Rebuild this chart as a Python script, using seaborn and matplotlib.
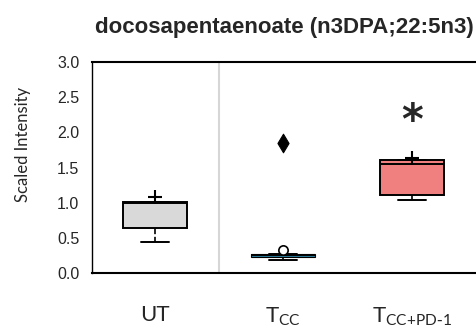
import matplotlib
matplotlib.use("Agg")
import matplotlib.pyplot as plt
import seaborn as sns
import pandas as pd
import numpy as np

sns.set_style("white")
plt.rcParams['font.family'] = ['Liberation Sans', 'DejaVu Sans']

title = "docosapentaenoate (n3DPA;22:5n3)"
ylabel = "Scaled Intensity"
groups = ["UT", "Tcc", "Tcc+PD-1"]
tick_labels = ["UT", r"T$_{\mathregular{CC}}$", r"T$_{\mathregular{CC{+}PD\text{-}1}}$"]
colors = ["#d9d9d9", "#2a7e9e", "#f08080"]

# per-group box summary values: min, q1, median, q3, max
ut_vals = [0.445, 0.645, 0.995, 1.005, 1.005]
tcc_vals = [0.185, 0.222, 0.25, 0.272, 0.272]
pd1_vals = [1.04, 1.11, 1.555, 1.607, 1.607]

# extra markers
plus_groups = ["UT", "Tcc+PD-1"]
plus_vals = [1.08, 1.635]
circle_groups = ["Tcc"]
circle_vals = [0.33]
diamond_groups = ["Tcc"]
diamond_vals = [1.855]
star_group = "Tcc+PD-1"
star_val = 2.15

df = pd.DataFrame({
    "group": ["UT"] * len(ut_vals) + ["Tcc"] * len(tcc_vals) + ["Tcc+PD-1"] * len(pd1_vals),
    "value": ut_vals + tcc_vals + pd1_vals,
})

fig = plt.figure(figsize=(4.76, 3.33), dpi=100)
ax = fig.add_axes([92 / 476, 60 / 333, 384 / 476, 211 / 333])

ax.axvline(0.5, color="#d6d6d6", lw=1.5, zorder=0)

sns.boxplot(data=df, x="group", y="value", order=groups, hue="group", hue_order=groups,
            palette=colors, saturation=1, width=0.5, whis=np.inf, showfliers=False,
            linecolor="black", linewidth=1.4, legend=False, ax=ax,
            whiskerprops=dict(linestyle="--", linewidth=1.2),
            medianprops=dict(linewidth=1.4, color="black"),
            capwidths=0.22)

# thinner outline on the very flat middle box so its fill shows
if len(ax.patches) >= 2:
    ax.patches[1].set_linewidth(0.8)

pdf = pd.DataFrame({"group": plus_groups, "value": plus_vals})
sns.scatterplot(data=pdf, x="group", y="value", marker="+", s=110, color="black",
                linewidth=1.5, ax=ax, zorder=5)
cdf = pd.DataFrame({"group": circle_groups, "value": circle_vals})
sns.scatterplot(data=cdf, x="group", y="value", marker="o", s=45, facecolor="white",
                edgecolor="black", linewidth=1.2, ax=ax, zorder=5)
ddf = pd.DataFrame({"group": diamond_groups, "value": diamond_vals})
sns.scatterplot(data=ddf, x="group", y="value", marker="d", s=90, color="black",
                edgecolor="black", ax=ax, zorder=5)

ax.text(groups.index(star_group), star_val, "*", ha="center", va="center",
        fontsize=30, fontweight="bold", family="DejaVu Sans")

ax.set_xlim(-0.49, 2.5)
ax.set_ylim(0, 3.0)
ax.set_yticks(np.arange(0, 3.01, 0.5))
ax.set_yticklabels([f"{v:.1f}" for v in np.arange(0, 3.01, 0.5)], fontsize=11.5)
ax.set_xticks(range(len(groups)))
ax.set_xticklabels(tick_labels, fontsize=16, family=["Lato", "DejaVu Sans"])
ax.tick_params(axis="x", direction="out", length=5, width=1, color="#444444", pad=18)
ax.tick_params(axis="y", direction="out", length=5, width=1, color="#888888", pad=4)
ax.set_xlabel("")
ax.set_ylabel(ylabel, fontsize=12, family=["Lato", "DejaVu Sans"])
ax.yaxis.set_label_coords(-0.16, 0.61)

for s in ["left", "bottom", "top"]:
    ax.spines[s].set_visible(True)
    ax.spines[s].set_color("black")
    ax.spines[s].set_linewidth(1.5)
ax.spines["left"].set_linewidth(1.0)
ax.spines["right"].set_visible(False)

ax.set_title(title, fontsize=16, fontweight="bold", pad=21)

fig.savefig("out.png", dpi=100)
